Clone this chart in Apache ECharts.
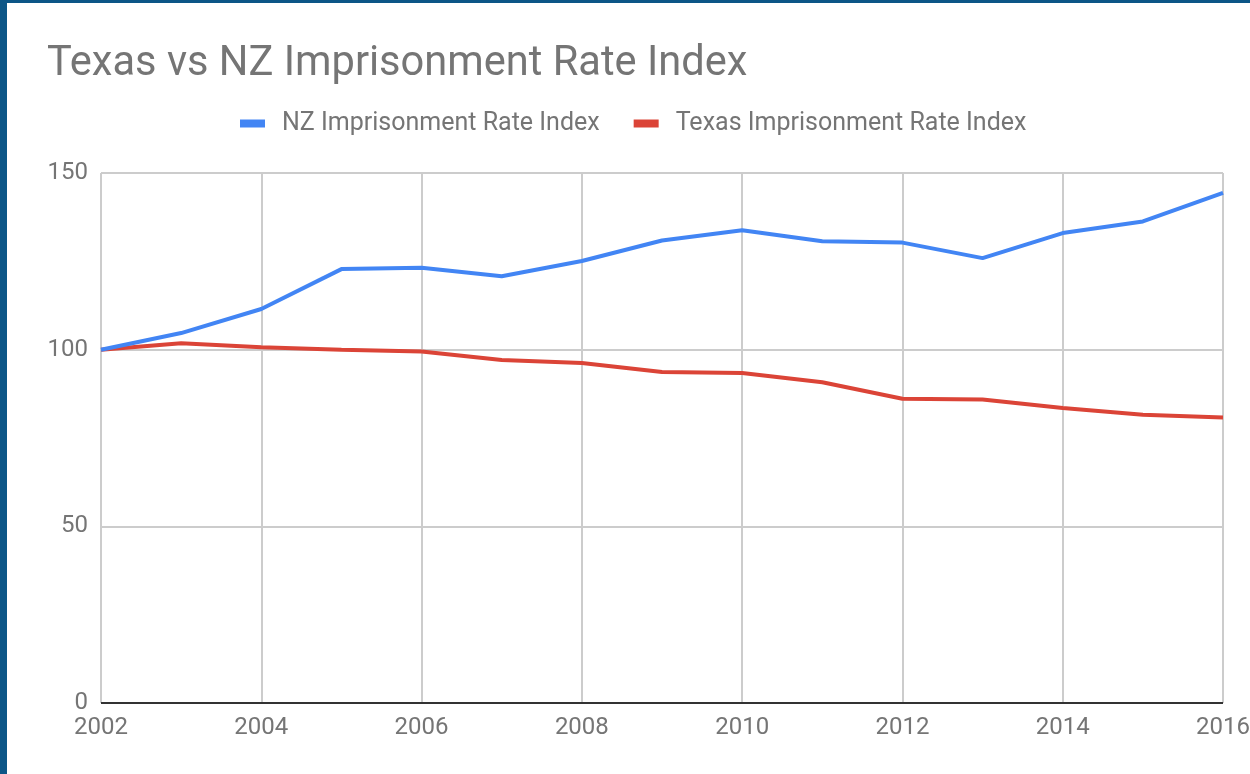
<!DOCTYPE html>
<html>
<head>
<meta charset="utf-8">
<script src="https://cdn.jsdelivr.net/npm/echarts@6/dist/echarts.min.js"></script>
<style>
html,body{margin:0;padding:0;background:#fff;overflow:hidden;}
#chart{width:1250px;height:774px;}
</style>
</head>
<body>
<div id="chart"></div>
<script>
const years = [2002,2003,2004,2005,2006,2007,2008,2009,2010,2011,2012,2013,2014,2015,2016];
const nzIndex = [100,104.7,111.5,122.8,123.2,120.8,125.1,130.9,133.8,130.7,130.3,125.9,133.0,136.3,144.4];
const texasIndex = [100,101.8,100.7,100.0,99.5,97.1,96.2,93.7,93.4,90.8,86.1,85.9,83.5,81.6,80.8];
const seriesNames = ['NZ Imprisonment Rate Index','Texas Imprisonment Rate Index'];
const titleText = 'Texas vs NZ Imprisonment Rate Index';

const chart = echarts.init(document.getElementById('chart'), null, {renderer:'canvas'});
const font = 'Roboto';
chart.setOption({
  backgroundColor:'#ffffff',
  animation:false,
  title:{
    text:titleText, left:42, top:39,
    textStyle:{fontFamily:font, fontSize:41.6, fontWeight:'normal', color:'#757575'}
  },
  legend:{
    left:235, top:106,
    itemWidth:25, itemHeight:8, itemGap:34,
    icon:'rect',
    textStyle:{fontFamily:font, fontSize:25, color:'#757575', padding:[0,0,0,12]},
    data:seriesNames
  },
  grid:{left:101, right:27, top:173, bottom:71, containLabel:false, outerBoundsMode:'none'},
  xAxis:{
    type:'value', min:2002, max:2016, interval:2,
    axisLine:{show:false},
    axisTick:{show:false},
    axisLabel:{fontFamily:font, fontSize:24, color:'#757575', margin:13, formatter:v=>String(v)},
    splitLine:{show:true, lineStyle:{color:'#cccccc', width:2}}
  },
  yAxis:{
    type:'value', min:0, max:150, interval:50,
    axisLine:{show:false},
    axisTick:{show:false},
    axisLabel:{fontFamily:font, fontSize:24, color:'#757575', margin:13},
    splitLine:{show:true, lineStyle:{color:'#cccccc', width:2}}
  },
  series:[
    {name:seriesNames[0], type:'line', data:years.map((y,i)=>[y,nzIndex[i]]),
     showSymbol:false, symbol:'none', lineStyle:{color:'#4285f4', width:4}, itemStyle:{color:'#4285f4'}, z:3},
    {name:seriesNames[1], type:'line', data:years.map((y,i)=>[y,texasIndex[i]]),
     showSymbol:false, symbol:'none', lineStyle:{color:'#db4437', width:4}, itemStyle:{color:'#db4437'}, z:2,
     markLine:{silent:true, symbol:'none', label:{show:false}, lineStyle:{color:'#333333', width:2, type:'solid'}, data:[{yAxis:0}]}}
  ],
  graphic:[
    {type:'rect', shape:{x:0,y:0,width:7,height:774}, style:{fill:'#0c5687'}, z:100},
    {type:'rect', shape:{x:0,y:0,width:1250,height:3}, style:{fill:'#0c5687'}, z:100}
  ]
});
</script>
</body>
</html>
